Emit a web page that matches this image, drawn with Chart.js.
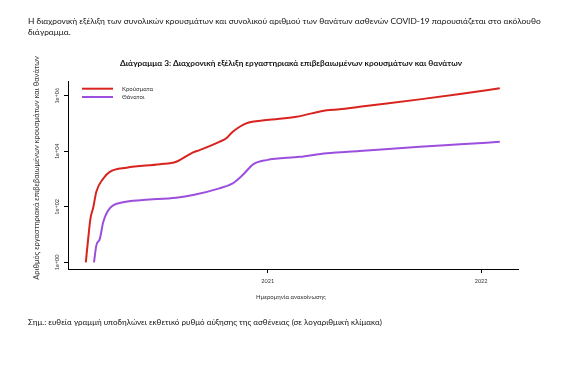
<!DOCTYPE html>
<html lang="el">
<head>
<meta charset="UTF-8">
<title>Διάγραμμα 3</title>
<style>
  html, body { margin: 0; padding: 0; background: #fff; }
  #canvas { display: block; }
</style>
</head>
<body>
<canvas id="canvas" width="576" height="368"></canvas>
<script src="https://cdn.jsdelivr.net/npm/chart.js@4.4.1/dist/chart.umd.min.js"></script>
<script>
'use strict';

// values (log scale, so they are estimates)
var caseDates = ['2020-02-24', '2020-02-28', '2020-03-03', '2020-03-08', '2020-03-13',
  '2020-03-25', '2020-04-05', '2020-05-04', '2020-06-30', '2020-07-28', '2020-08-26',
  '2020-09-06', '2020-10-10', '2020-10-22', '2020-11-02', '2020-11-25', '2020-12-30',
  '2021-02-19', '2021-04-12', '2021-05-04', '2021-06-07', '2021-09-18', '2021-11-26',
  '2022-02-02'];
var caseValues = [1, 7, 38, 100, 350,
  1050, 1820, 2570, 3390, 4180, 9130,
  11000, 21900, 29300, 50300, 101000, 133000,
  175000, 302000, 324000, 400000, 741000, 1150000,
  1850000];

var deathDates = ['2020-03-09', '2020-03-13', '2020-03-19', '2020-03-25', '2020-04-05',
  '2020-04-28', '2020-06-01', '2020-07-28', '2020-08-26', '2020-10-10', '2020-11-02',
  '2020-11-19', '2020-12-07', '2020-12-30', '2021-02-25', '2021-04-12', '2021-06-07',
  '2021-09-18', '2021-11-26', '2022-02-02'];
var deathValues = [1, 4, 7, 29, 88,
  145, 175, 213, 265, 460, 700,
  1390, 3390, 4800, 6300, 8500, 10200,
  14500, 17800, 21900];

var seriesNames = ['Κρούσματα', 'Θάνατοι'];
var seriesColors = ['#d8231f', '#9b4fdc'];
var yTicks = [1, 100, 10000, 1000000];
var xTicks = [2021, 2022];

var introLines = [
  'Η διαχρονική εξέλιξη των συνολικών κρουσμάτων και συνολικού αριθμού των θανάτων ασθενών COVID-19 παρουσιάζεται στο ακόλουθο',
  'διάγραμμα.'
];
var titleText = 'Διάγραμμα 3: Διαχρονική εξέλιξη εργαστηριακά επιβεβαιωμένων κρουσμάτων και θανάτων';
var xTitle = 'Ημερομηνία ανακοίνωσης';
var yTitle = 'Αριθμός εργαστηριακά επιβεβαιωμένων κρουσμάτων και θανάτων';
var noteText = 'Σημ.: ευθεία γραμμή υποδηλώνει εκθετικό ρυθμό αύξησης της ασθένειας (σε λογαριθμική κλίμακα)';

var FONT = 'Lato, "Open Sans", sans-serif';

// date string -> fractional year, so the x axis is a plain linear scale
function toYear(iso) {
  var y = +iso.slice(0, 4);
  var t = Date.parse(iso + 'T00:00:00Z');
  var start = Date.UTC(y, 0, 1);
  var end = Date.UTC(y + 1, 0, 1);
  return y + (t - start) / (end - start);
}

function points(dates, values) {
  return dates.map(function(d, i) {
    return { x: toYear(d), y: values[i] };
  });
}

function sizeFor(ctx, text, weight, width) {
  ctx.font = weight + ' 20px ' + FONT;
  return 20 * width / ctx.measureText(text).width;
}

function expLabel(v) {
  var e = Math.round(Math.log10(v));
  return '1e+' + (e < 10 ? '0' : '') + e;
}

var pageText = {
  id: 'pageText',
  beforeDraw: function(chart) {
    var ctx = chart.ctx;
    ctx.save();
    ctx.fillStyle = '#fff';
    ctx.fillRect(0, 0, chart.width, chart.height);
    ctx.restore();
  },
  afterDraw: function(chart) {
    var ctx = chart.ctx;
    var xs = chart.scales.x;
    var ys = chart.scales.y;
    var fs;
    ctx.save();
    ctx.textBaseline = 'middle';

    // intro paragraph
    ctx.fillStyle = '#111';
    fs = sizeFor(ctx, introLines[0], 'normal', 513);
    ctx.font = fs.toFixed(2) + 'px ' + FONT;
    ctx.textAlign = 'left';
    ctx.fillText(introLines[0], 28, 21);
    ctx.fillText(introLines[1], 28, 32);

    // chart title
    fs = sizeFor(ctx, titleText, 'bold', 342);
    ctx.font = 'bold ' + fs.toFixed(2) + 'px ' + FONT;
    ctx.textAlign = 'center';
    ctx.fillText(titleText, 291, 63);

    // legend
    ctx.lineWidth = 2;
    ctx.font = '6px ' + FONT;
    ctx.textAlign = 'left';
    seriesNames.forEach(function(name, i) {
      var ly = 88.7 + i * 8.3;
      ctx.strokeStyle = seriesColors[i];
      ctx.beginPath();
      ctx.moveTo(82, ly);
      ctx.lineTo(113, ly);
      ctx.stroke();
      ctx.fillStyle = '#333';
      ctx.fillText(name, 122, ly);
    });

    // y tick labels, written vertically as in the source
    ctx.fillStyle = '#333';
    ctx.font = '5.5px ' + FONT;
    ctx.textAlign = 'center';
    ys.ticks.forEach(function(t) {
      var py = ys.getPixelForValue(t.value);
      ctx.save();
      ctx.translate(57, py);
      ctx.rotate(-Math.PI / 2);
      ctx.fillText(expLabel(t.value), 0, 0);
      ctx.restore();
    });

    // x tick labels
    xs.ticks.forEach(function(t) {
      ctx.fillText(String(t.value), xs.getPixelForValue(t.value), 281);
    });

    // axis titles
    ctx.fillStyle = '#333';
    ctx.font = '6px ' + FONT;
    ctx.fillText(xTitle, 291, 297);
    fs = sizeFor(ctx, yTitle, 'normal', 224);
    ctx.font = fs.toFixed(2) + 'px ' + FONT;
    ctx.save();
    ctx.translate(37, 168);
    ctx.rotate(-Math.PI / 2);
    ctx.fillText(yTitle, 0, 0);
    ctx.restore();

    // note under the chart
    ctx.fillStyle = '#111';
    fs = sizeFor(ctx, noteText, 'normal', 354);
    ctx.font = fs.toFixed(2) + 'px ' + FONT;
    ctx.textAlign = 'left';
    ctx.fillText(noteText, 28, 322);

    ctx.restore();
  }
};

var axisLook = {
  ticks: { display: false },
  grid: { drawOnChartArea: false, tickLength: 4, color: '#000', lineWidth: 1 },
  border: { color: '#000', width: 1 }
};

var config = {
  type: 'line',
  data: {
    datasets: [{
      label: seriesNames[0],
      data: points(caseDates, caseValues),
      borderColor: seriesColors[0]
    }, {
      label: seriesNames[1],
      data: points(deathDates, deathValues),
      borderColor: seriesColors[1]
    }]
  },
  options: {
    responsive: false,
    animation: false,
    devicePixelRatio: 1,
    layout: {
      padding: { left: 64, right: 58, top: 81, bottom: 95 }
    },
    elements: {
      point: { radius: 0 },
      line: { borderWidth: 2, cubicInterpolationMode: 'monotone', fill: false }
    },
    plugins: {
      legend: { display: false },
      tooltip: { enabled: false }
    },
    scales: {
      x: Object.assign({
        type: 'linear',
        min: 2020.064,
        max: 2022.173,
        afterBuildTicks: function(scale) {
          scale.ticks = xTicks.map(function(v) { return { value: v }; });
        }
      }, axisLook),
      y: Object.assign({
        type: 'logarithmic',
        min: 0.575,
        max: 3.4e6,
        afterBuildTicks: function(scale) {
          scale.ticks = yTicks.map(function(v) { return { value: v }; });
        }
      }, axisLook)
    }
  },
  plugins: [pageText]
};

var chart = new Chart(document.getElementById('canvas').getContext('2d'), config);
</script>
</body>
</html>
